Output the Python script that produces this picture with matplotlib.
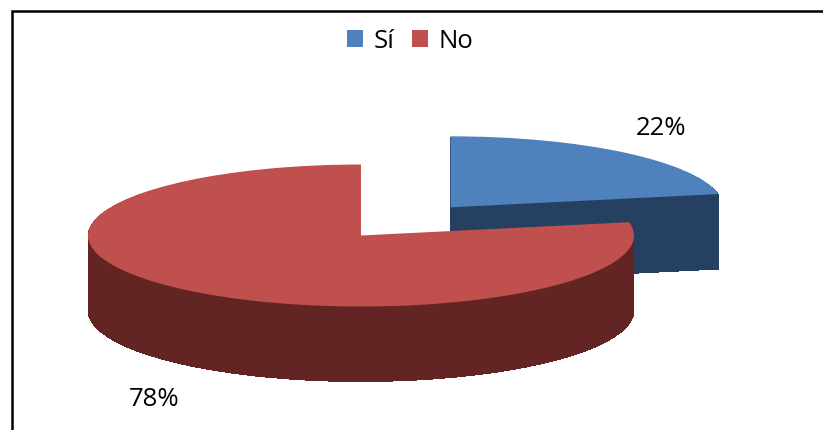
import matplotlib
matplotlib.use("Agg")
import matplotlib.pyplot as plt
from matplotlib.patches import Patch

categories = ["Sí", "No"]
values = [22, 78]
labels = ["22%", "78%"]

TOP = ["#4F81BD", "#C0504D"]
SIDE = ["#254061", "#632523"]
W, H = 823, 430
RX, RY = 273.0, 71.0      # pixels per data unit
CX, CY = 361.0, 235.5     # pie centre in pixels
DEPTH = 75                # pixels
EXPLODE = 0.515

plt.rcParams["font.family"] = ["Open Sans", "DejaVu Sans"]
fig = plt.figure(figsize=(W / 100, H / 100), dpi=100)
ax = fig.add_axes([0, 0, 1, 1])


def draw(i, dy, color, z, smooth):
    """Draw slice i from the data; the slice is shifted down by dy pixels."""
    cols = [color if j == i else "none" for j in range(len(values))]
    wedges, _ = ax.pie(values, startangle=90, counterclock=False, colors=cols,
                       explode=[EXPLODE, 0], center=(0, -dy / RY), radius=1,
                       frame=False, wedgeprops=dict(linewidth=0, antialiased=smooth))
    for j, w in enumerate(wedges):
        w.set_zorder(z)
        if j != i:
            w.set_visible(False)
    return wedges[i]


# blue slice behind, red slice in front
for i, base in ((0, 1), (1, 3)):
    for d in range(DEPTH, 0, -1):
        draw(i, d, SIDE[i], base, False)
    draw(i, 0, TOP[i], base + 1, True)

ax.set_aspect("auto")
ax.set_xlim(-CX / RX, (W - CX) / RX)
ax.set_ylim((CY - H) / RY, CY / RY)
ax.axis("off")

# frame (top and left only)
fig.add_artist(plt.Line2D([11.5 / W, 11.5 / W, 1], [0, 1 - 11 / H, 1 - 11 / H],
                          color="black", lw=1.8, transform=fig.transFigure,
                          solid_joinstyle="miter"))

fig.text(661 / W, 1 - 128.5 / H, labels[0], fontsize=18.5, ha="center", va="center", color="black")
fig.text(154.5 / W, 1 - 399.5 / H, labels[1], fontsize=18.5, ha="center", va="center", color="black")

handles = [Patch(facecolor=c, edgecolor="none", label=n) for c, n in zip(TOP, categories)]
fig.legend(handles=handles, loc="center", bbox_to_anchor=(410 / W, 1 - 41 / H), ncol=2,
           frameon=False, fontsize=18.5, handlelength=0.62, handleheight=0.62,
           handletextpad=0.4, columnspacing=0.7, borderpad=0)

fig.savefig("out.png", dpi=100, facecolor="white")
